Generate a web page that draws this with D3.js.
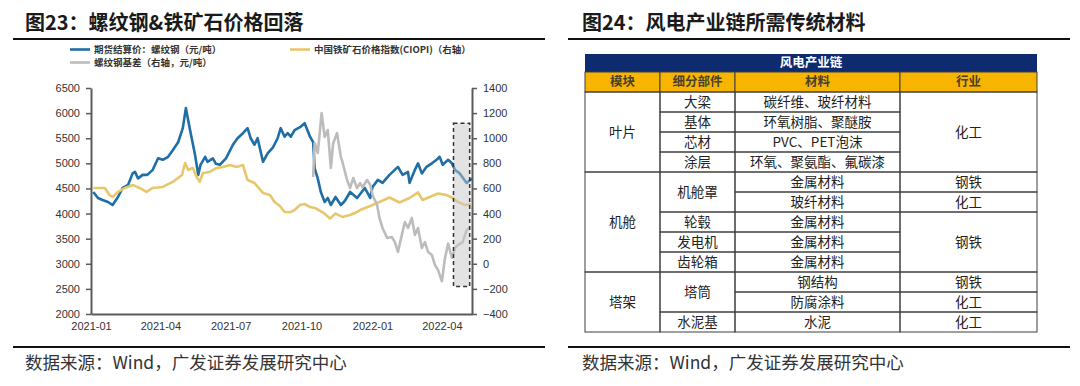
<!DOCTYPE html>
<html>
<head>
<meta charset="utf-8">
<script src="https://cdn.jsdelivr.net/npm/d3@7"></script>
<style>
body { margin: 0; background: #fff; }
svg { display: block; font-family: "Liberation Sans", Arial, "Noto Sans CJK SC", sans-serif; }
.cjk { font-family: "Noto Sans CJK SC", sans-serif; }
</style>
</head>
<body>
<svg id="fig" width="1080" height="386"></svg>
<script>
// ---- chart data (figure 23) ----
const rebarPrice = [
  ['2021-01-04', 4430], ['2021-01-10', 4310], ['2021-01-16', 4270], ['2021-01-23', 4230],
  ['2021-01-29', 4170], ['2021-02-05', 4330], ['2021-02-11', 4510], ['2021-02-18', 4570],
  ['2021-02-24', 4800], ['2021-02-27', 4830], ['2021-03-03', 4700], ['2021-03-09', 4770],
  ['2021-03-15', 4770], ['2021-03-22', 4870], ['2021-03-29', 5100], ['2021-04-04', 5070],
  ['2021-04-11', 5130], ['2021-04-17', 5260], ['2021-04-24', 5420], ['2021-04-30', 5700],
  ['2021-05-04', 6100], ['2021-05-07', 5860], ['2021-05-10', 5620], ['2021-05-16', 5160],
  ['2021-05-20', 4770], ['2021-05-23', 4970], ['2021-05-29', 5130], ['2021-06-01', 5030],
  ['2021-06-08', 5100], ['2021-06-12', 4990], ['2021-06-17', 4970], ['2021-06-25', 5100],
  ['2021-07-04', 5370], ['2021-07-10', 5500], ['2021-07-17', 5600], ['2021-07-23', 5700],
  ['2021-07-27', 5500], ['2021-08-01', 5370], ['2021-08-05', 5500], ['2021-08-12', 5030],
  ['2021-08-18', 5200], ['2021-08-25', 5320], ['2021-08-31', 5500], ['2021-09-04', 5700],
  ['2021-09-09', 5530], ['2021-09-13', 5600], ['2021-09-17', 5530], ['2021-09-22', 5660],
  ['2021-09-29', 5720], ['2021-10-05', 5800], ['2021-10-12', 5530], ['2021-10-16', 5420],
  ['2021-10-18', 4900], ['2021-10-22', 4700], ['2021-10-26', 4430], ['2021-10-31', 4230],
  ['2021-11-04', 4310], ['2021-11-08', 4170], ['2021-11-14', 4330], ['2021-11-21', 4170],
  ['2021-11-26', 4250], ['2021-12-03', 4430], ['2021-12-12', 4310], ['2021-12-22', 4510],
  ['2021-12-29', 4310], ['2022-01-01', 4530], ['2022-01-08', 4670], ['2022-01-14', 4610],
  ['2022-01-23', 4770], ['2022-02-03', 4930], ['2022-02-09', 4770], ['2022-02-16', 4830],
  ['2022-02-18', 4610], ['2022-02-25', 4870], ['2022-03-01', 5000], ['2022-03-06', 4800],
  ['2022-03-12', 4930], ['2022-03-19', 5000], ['2022-03-25', 5070], ['2022-03-29', 5130],
  ['2022-04-02', 4970], ['2022-04-09', 5070], ['2022-04-14', 5000], ['2022-04-18', 4870],
  ['2022-04-24', 4800], ['2022-05-03', 4610], ['2022-05-10', 4700]
];
const ciopiIndex = [
  ['2021-01-04', 604], ['2021-01-10', 604], ['2021-01-19', 604], ['2021-01-25', 548],
  ['2021-01-29', 532], ['2021-02-05', 572], ['2021-02-14', 604], ['2021-02-24', 628],
  ['2021-03-05', 604], ['2021-03-14', 572], ['2021-03-22', 604], ['2021-04-04', 612],
  ['2021-04-17', 652], ['2021-04-29', 707], ['2021-05-03', 803], ['2021-05-07', 747],
  ['2021-05-13', 763], ['2021-05-18', 691], ['2021-05-22', 652], ['2021-05-26', 723],
  ['2021-06-04', 731], ['2021-06-13', 763], ['2021-06-21', 771], ['2021-06-30', 787],
  ['2021-07-09', 771], ['2021-07-17', 787], ['2021-07-23', 667], ['2021-08-01', 643],
  ['2021-08-12', 564], ['2021-08-21', 548], ['2021-08-27', 492], ['2021-09-03', 460],
  ['2021-09-09', 412], ['2021-09-16', 410], ['2021-09-22', 428], ['2021-09-29', 468],
  ['2021-10-05', 476], ['2021-10-13', 450], ['2021-10-19', 444], ['2021-10-29', 408],
  ['2021-11-07', 360], ['2021-11-14', 400], ['2021-11-23', 373], ['2021-12-03', 388],
  ['2021-12-09', 404], ['2021-12-16', 428], ['2021-12-29', 460], ['2022-01-10', 492],
  ['2022-01-23', 528], ['2022-02-05', 488], ['2022-02-18', 524], ['2022-03-01', 568],
  ['2022-03-07', 508], ['2022-03-16', 532], ['2022-03-27', 560], ['2022-04-07', 548],
  ['2022-04-15', 524], ['2022-04-22', 492], ['2022-05-01', 468], ['2022-05-10', 476]
];
const rebarBasis = [
  ['2021-10-16', 691], ['2021-10-18', 962], ['2021-10-22', 882], ['2021-10-27', 1200],
  ['2021-10-31', 1010], ['2021-11-04', 1065], ['2021-11-08', 763], ['2021-11-11', 960],
  ['2021-11-16', 1040], ['2021-11-21', 850], ['2021-11-23', 811], ['2021-11-29', 667],
  ['2021-12-03', 604], ['2021-12-07', 683], ['2021-12-12', 604], ['2021-12-16', 643],
  ['2021-12-19', 610], ['2021-12-25', 667], ['2021-12-29', 630], ['2022-01-01', 548],
  ['2022-01-07', 468], ['2022-01-10', 365], ['2022-01-14', 285], ['2022-01-20', 205],
  ['2022-01-26', 213], ['2022-01-30', 173], ['2022-02-03', 94], ['2022-02-08', 230],
  ['2022-02-12', 333], ['2022-02-16', 285], ['2022-02-21', 365], ['2022-02-25', 230],
  ['2022-03-01', 285], ['2022-03-06', 126], ['2022-03-10', 173], ['2022-03-14', 94],
  ['2022-03-19', 70], ['2022-03-23', -10], ['2022-03-27', -50], ['2022-04-01', -140],
  ['2022-04-05', 46], ['2022-04-09', 160], ['2022-04-14', 46], ['2022-04-18', 126],
  ['2022-04-22', 150], ['2022-04-28', 173], ['2022-05-03', 269], ['2022-05-07', 290]
];
const leftTicks = [2000, 2500, 3000, 3500, 4000, 4500, 5000, 5500, 6000, 6500];
const rightTicks = [-400, -200, 0, 200, 400, 600, 800, 1000, 1200, 1400];
const monthTicks = ['2021-01', '2021-04', '2021-07', '2021-10', '2022-01', '2022-04'];
const shadeDates = ['2022-04-16', '2022-05-07'];
const shadeRange = [-180, 1120];
const legendNames = ['期货结算价：螺纹钢（元/吨）', '中国铁矿石价格指数(CIOPI)（右轴）', '螺纹钢基差（右轴，元/吨）'];

// ---- table data (figure 24) ----
const tableTitle = '风电产业链';
const tableHeaders = ['模块', '细分部件', '材料', '行业'];
const modules = [{ name: '叶片', span: 4 }, { name: '机舱', span: 5 }, { name: '塔架', span: 3 }];
const parts = [
  { name: '大梁', span: 1 }, { name: '基体', span: 1 }, { name: '芯材', span: 1 }, { name: '涂层', span: 1 },
  { name: '机舱罩', span: 2 }, { name: '轮毂', span: 1 }, { name: '发电机', span: 1 }, { name: '齿轮箱', span: 1 },
  { name: '塔筒', span: 2 }, { name: '水泥基', span: 1 }
];
const materials = ['碳纤维、玻纤材料', '环氧树脂、聚醚胺', 'PVC、PET泡沫', '环氧、聚氨酯、氟碳漆', '金属材料', '玻纤材料',
  '金属材料', '金属材料', '金属材料', '钢结构', '防腐涂料', '水泥'];
const industries = [
  { name: '化工', span: 4 }, { name: '钢铁', span: 1 }, { name: '化工', span: 1 }, { name: '钢铁', span: 3 },
  { name: '钢铁', span: 1 }, { name: '化工', span: 1 }, { name: '化工', span: 1 }
];
const sourceText = '数据来源：Wind，广发证券发展研究中心';

const svg = d3.select('#fig');
const parse = d3.timeParse('%Y-%m-%d');
const parseMonth = d3.timeParse('%Y-%m');

// ---- panel frames ----
function frame(x0, x1, tx, title) {
  svg.append('text').attr('class', 'cjk')
    .attr('x', tx).attr('y', 30)
    .attr('font-size', 20).attr('font-weight', 700).attr('fill', '#1a1a1a')
    .text(title);
  svg.append('line').attr('x1', x0).attr('x2', x1).attr('y1', 39).attr('y2', 39)
    .attr('stroke', '#111').attr('stroke-width', 2);
  svg.append('line').attr('x1', x0).attr('x2', x1).attr('y1', 347).attr('y2', 347)
    .attr('stroke', '#111').attr('stroke-width', 2);
  svg.append('text').attr('class', 'cjk')
    .attr('x', tx).attr('y', 369)
    .attr('font-size', 17.5).attr('fill', '#333')
    .text(sourceText);
}
frame(13, 545, 25, '图23：螺纹钢&铁矿石价格回落');
frame(568, 1070, 582, '图24：风电产业链所需传统材料');

// ---- chart ----
const plot = { left: 91, right: 472, top: 88, bottom: 314 };
const x = d3.scaleTime().domain([parse('2021-01-01'), parse('2022-05-10')]).range([plot.left, plot.right]);
const yL = d3.scaleLinear().domain([2000, 6500]).range([plot.bottom, plot.top]);
const yR = d3.scaleLinear().domain([-400, 1400]).range([plot.bottom, plot.top]);

const chart = svg.append('g');

function styleAxis(g) {
  g.select('.domain').attr('stroke', '#5a5a5a').attr('stroke-width', 2);
  g.selectAll('.tick line').attr('stroke', '#5a5a5a').attr('stroke-width', 1.5);
  g.selectAll('.tick text').attr('fill', '#333').attr('font-size', 11)
    .attr('font-family', '"Liberation Sans", Arial, sans-serif');
}

chart.append('g').attr('transform', `translate(${plot.left},0)`)
  .call(d3.axisLeft(yL).tickValues(leftTicks).tickSize(5).tickSizeOuter(0).tickPadding(6).tickFormat(d3.format('d')))
  .call(styleAxis);
chart.append('g').attr('transform', `translate(${plot.right},0)`)
  .call(d3.axisRight(yR).tickValues(rightTicks).tickSize(5).tickSizeOuter(0).tickPadding(6).tickFormat(d3.format('d')))
  .call(styleAxis);
chart.append('g').attr('transform', `translate(0,${plot.bottom})`)
  .call(d3.axisBottom(x).tickValues(monthTicks.map(parseMonth)).tickSize(0).tickSizeOuter(0).tickPadding(8)
    .tickFormat(d3.timeFormat('%Y-%m')))
  .call(styleAxis);

const lineL = d3.line().x(d => x(parse(d[0]))).y(d => yL(d[1]));
const lineR = d3.line().x(d => x(parse(d[0]))).y(d => yR(d[1]));

const series = [
  { data: rebarPrice, line: lineL, color: '#1f6ea6' },
  { data: ciopiIndex, line: lineR, color: '#e8c76c' },
  { data: rebarBasis, line: lineR, color: '#bcbcbc' }
];

chart.selectAll('path.series')
  .data(series)
  .join('path')
  .attr('class', 'series')
  .attr('d', d => d.line(d.data))
  .attr('fill', 'none')
  .attr('stroke', d => d.color)
  .attr('stroke-width', 2.6)
  .attr('stroke-linejoin', 'round');

// shaded window
chart.append('rect')
  .attr('x', x(parse(shadeDates[0])))
  .attr('y', yR(shadeRange[1]))
  .attr('width', x(parse(shadeDates[1])) - x(parse(shadeDates[0])))
  .attr('height', yR(shadeRange[0]) - yR(shadeRange[1]))
  .attr('fill', '#c8c8c8').attr('fill-opacity', 0.5)
  .attr('stroke', '#333').attr('stroke-width', 1.5).attr('stroke-dasharray', '4,3');

// legend
const legendPos = [[70, 49.5], [290, 49.5], [70, 62.5]];
const legend = chart.selectAll('g.legend')
  .data(series)
  .join('g')
  .attr('class', 'legend')
  .attr('transform', (d, i) => `translate(${legendPos[i][0]},${legendPos[i][1]})`);
legend.append('line').attr('x1', 0).attr('x2', 20)
  .attr('stroke', d => d.color).attr('stroke-width', 2.6);
legend.append('text').attr('class', 'cjk')
  .attr('x', 24).attr('dy', '0.35em')
  .attr('font-size', 9.5).attr('font-weight', 600).attr('fill', '#333')
  .text((d, i) => legendNames[i]);

// ---- table ----
const colX = [585, 660, 735, 900, 1037];
const rowY = d3.scaleLinear().domain([0, 12]).range([92, 332]);
const table = svg.append('g').attr('class', 'cjk');
const border = '#3f3f3f';

table.append('rect').attr('x', colX[0]).attr('y', 54).attr('width', colX[4] - colX[0]).attr('height', 18)
  .attr('fill', '#0d2b6e');
table.append('text').attr('x', (colX[0] + colX[4]) / 2).attr('y', 63).attr('dy', '0.35em')
  .attr('text-anchor', 'middle').attr('font-size', 12.5).attr('font-weight', 700).attr('fill', '#fff')
  .text(tableTitle);

table.selectAll('rect.head')
  .data(tableHeaders)
  .join('rect').attr('class', 'head')
  .attr('x', (d, i) => colX[i]).attr('y', 72)
  .attr('width', (d, i) => colX[i + 1] - colX[i]).attr('height', 20)
  .attr('fill', '#f7b500').attr('stroke', border).attr('stroke-width', 1);
table.selectAll('text.head')
  .data(tableHeaders)
  .join('text').attr('class', 'head')
  .attr('x', (d, i) => (colX[i] + colX[i + 1]) / 2).attr('y', 82).attr('dy', '0.35em')
  .attr('text-anchor', 'middle').attr('font-size', 12.5).attr('font-weight', 700).attr('fill', '#4a4030')
  .text(d => d);

function spans(items) {
  let r = 0;
  return items.map(d => {
    const c = { name: d.name, r0: r, r1: r + d.span };
    r += d.span;
    return c;
  });
}

const columns = [
  spans(modules),
  spans(parts),
  spans(materials.map(m => ({ name: m, span: 1 }))),
  spans(industries)
];

columns.forEach((cells, ci) => {
  const g = table.append('g');
  g.selectAll('rect')
    .data(cells)
    .join('rect')
    .attr('x', colX[ci]).attr('y', d => rowY(d.r0))
    .attr('width', colX[ci + 1] - colX[ci]).attr('height', d => rowY(d.r1) - rowY(d.r0))
    .attr('fill', 'none').attr('stroke', border).attr('stroke-width', 1);
  g.selectAll('text')
    .data(cells)
    .join('text')
    .attr('x', (colX[ci] + colX[ci + 1]) / 2)
    .attr('y', d => (rowY(d.r0) + rowY(d.r1)) / 2).attr('dy', '0.35em')
    .attr('text-anchor', 'middle').attr('font-size', 13.5).attr('fill', '#222')
    .text(d => d.name);
});
</script>
</body>
</html>
